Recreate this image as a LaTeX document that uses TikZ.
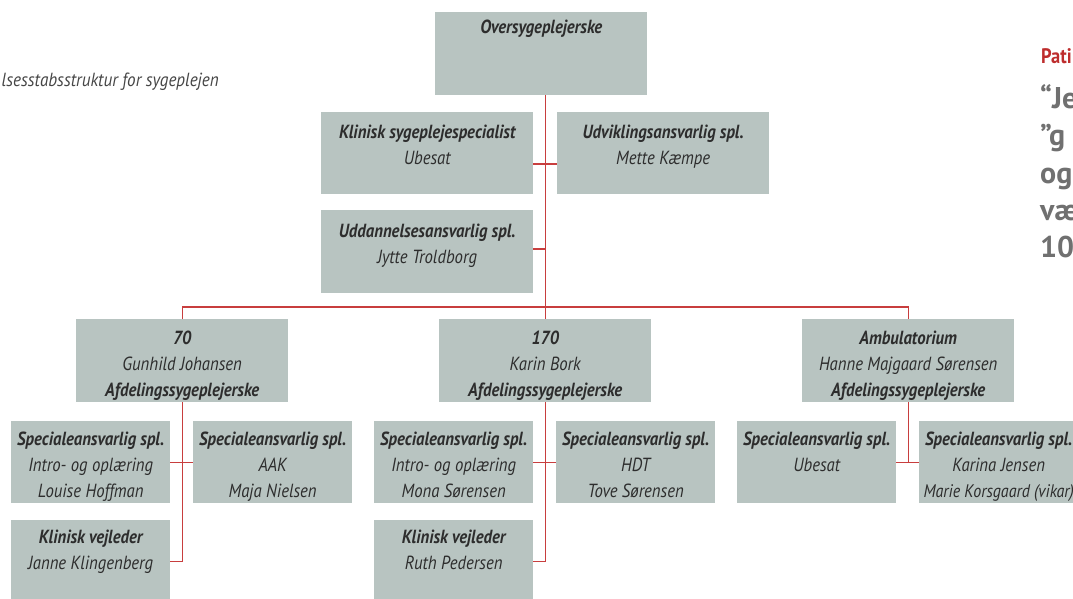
\documentclass[tikz,border=0pt]{standalone}
\usepackage{fontspec}
\setmainfont{PT Sans}[FakeStretch=0.88]
\newfontfamily\widefont{PT Sans}
\newfontfamily\titlefont{PT Sans}[FakeStretch=0.9]
\definecolor{boxfill}{RGB}{184,196,193}
\definecolor{linered}{RGB}{200,62,62}
\definecolor{txt}{RGB}{45,45,45}
\definecolor{titlegray}{RGB}{70,70,70}
\definecolor{quotegray}{RGB}{112,112,112}
\definecolor{headred}{RGB}{190,45,45}
\tikzset{
  box/.style={fill=boxfill, inner sep=0pt, align=center, anchor=north west,
    text=txt, font=\itshape\fontsize{19}{26}\selectfont},
  wbox/.style={box, minimum width=212pt},
  nbox/.style={box, minimum width=159pt},
  conn/.style={draw=linered, line width=1.3pt},
  side/.style={anchor=base west, inner sep=0pt, text=quotegray,
    font=\widefont\bfseries\fontsize{30}{37}\selectfont}
}
\begin{document}
\begin{tikzpicture}[x=1pt,y=-1pt]
\clip (0,0) rectangle (1073,599);
\fill[white] (0,0) rectangle (1073,599);
% boxes (text height = distance from box top to the last baseline)
\node[wbox, text height=21pt, text depth=62pt] (top) at (435,12) {\bfseries Oversygeplejerske};
\node[wbox, text height=52pt, text depth=30pt] (ksp) at (321,112) {\bfseries Klinisk sygeplejespecialist\\Ubesat};
\node[wbox, text height=52pt, text depth=30pt] (udv) at (557,112) {\bfseries Udviklingsansvarlig spl.\\Mette Kæmpe};
\node[wbox, text height=53pt, text depth=30pt] (udd) at (321,210) {\bfseries Uddannelsesansvarlig spl.\\Jytte Troldborg};
\node[wbox, text height=77pt, text depth=6pt] (a70) at (76,319) {\bfseries 70\\Gunhild Johansen\\\bfseries Afdelingssygeplejerske};
\node[wbox, text height=77pt, text depth=6pt] (a170) at (439,319) {\bfseries 170\\Karin Bork\\\bfseries Afdelingssygeplejerske};
\node[wbox, text height=77pt, text depth=6pt] (amb) at (802,319) {\bfseries Ambulatorium\\Hanne Majgaard Sørensen\\\bfseries Afdelingssygeplejerske};
\node[nbox, text height=76pt, text depth=6pt] (s1) at (11,421) {\bfseries Specialeansvarlig spl.\\Intro- og oplæring\\Louise Hoffman};
\node[nbox, text height=76pt, text depth=6pt] (s2) at (193,421) {\bfseries Specialeansvarlig spl.\\AAK\\Maja Nielsen};
\node[nbox, text height=49pt, text depth=33pt] (k1) at (11,520) {\bfseries Klinisk vejleder\\Janne Klingenberg};
\node[nbox, text height=76pt, text depth=6pt] (s3) at (374,421) {\bfseries Specialeansvarlig spl.\\Intro- og oplæring\\Mona Sørensen};
\node[nbox, text height=76pt, text depth=6pt] (s4) at (556,421) {\bfseries Specialeansvarlig spl.\\HDT\\Tove Sørensen};
\node[nbox, text height=49pt, text depth=33pt] (k2) at (374,520) {\bfseries Klinisk vejleder\\Ruth Pedersen};
\node[nbox, text height=50pt, text depth=32pt] (s5) at (737,421) {\bfseries Specialeansvarlig spl.\\Ubesat};
\node[nbox, text height=76pt, text depth=6pt] (s6) at (919,421) {\bfseries Specialeansvarlig spl.\\Karina Jensen\\{\fontsize{18.2}{26}\selectfont Marie Korsgaard (vikar)}};
% connectors
\coordinate (kspc) at ([yshift=-52pt]ksp.north east);
\coordinate (uddc) at ([yshift=-39pt]udd.north east);
\draw[conn] (top.south -| a170.north) -- (a170.north);
\draw[conn] (kspc) -- (kspc -| udv.west);
\draw[conn] (uddc) -- (uddc -| a170.north);
\draw[conn] (a70.north) -- ++(0,-12) -| (amb.north);
\draw[conn] (a70.south) |- (k1.east);
\draw[conn] (s1.east) -- (s2.west);
\draw[conn] (a170.south) |- (k2.east);
\draw[conn] (s3.east) -- (s4.west);
\draw[conn] (amb.south) |- (s5.east);
\draw[conn] (s5.east) -- (s6.west);
% texts outside the chart
\node[anchor=base east, inner sep=0pt, text=titlegray, font=\titlefont\itshape\fontsize{19}{22}\selectfont] (title) at (219,87) {lsesstabsstruktur for sygeplejen};
\node[anchor=base west, inner sep=0pt, text=headred, font=\bfseries\fontsize{21}{24}\selectfont] (head) at (1041,64) {Pati};
\node[side] (q1) at (1040,109) {“Je};
\node[side] (q2) at (1040,146) {”g};
\node[side] (q3) at (1040,183) {og};
\node[side] (q4) at (1040,220) {væ};
\node[side] (q5) at (1040,257) {10};
\end{tikzpicture}
\end{document}
